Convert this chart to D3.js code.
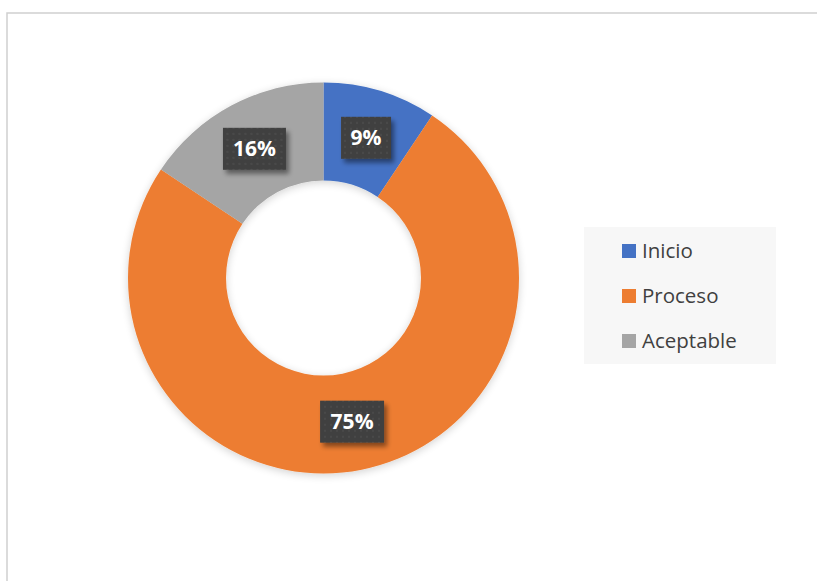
<!DOCTYPE html>
<html>
<head>
<meta charset="utf-8">
<script src="https://cdn.jsdelivr.net/npm/d3@7"></script>
<style>
html,body{margin:0;padding:0;background:#fff;}
svg{display:block;}
</style>
</head>
<body>
<svg id="chart" width="817" height="581"></svg>
<script>
const categories = ["Inicio", "Proceso", "Aceptable"];
const values = [3, 24, 5];
const colors = ["#4472C4", "#ED7D31", "#A5A5A5"];

const svg = d3.select("#chart");
const W = 817, H = 581;
const total = d3.sum(values);
const fmt = v => Math.round(v / total * 100) + "%";

const defs = svg.append("defs");
const sh = defs.append("filter").attr("id","shadow").attr("x","-20%").attr("y","-20%").attr("width","140%").attr("height","140%");
sh.append("feGaussianBlur").attr("in","SourceAlpha").attr("stdDeviation",4);
sh.append("feOffset").attr("dx",0).attr("dy",2).attr("result","b");
sh.append("feComponentTransfer").append("feFuncA").attr("type","linear").attr("slope",0.18);
const m1 = sh.append("feMerge"); m1.append("feMergeNode"); m1.append("feMergeNode").attr("in","SourceGraphic");

const sh2 = defs.append("filter").attr("id","lblshadow").attr("x","-30%").attr("y","-30%").attr("width","160%").attr("height","160%");
sh2.append("feGaussianBlur").attr("in","SourceAlpha").attr("stdDeviation",2.5);
sh2.append("feOffset").attr("dx",3).attr("dy",4).attr("result","b");
sh2.append("feComponentTransfer").append("feFuncA").attr("type","linear").attr("slope",0.45);
const m2 = sh2.append("feMerge"); m2.append("feMergeNode"); m2.append("feMergeNode").attr("in","SourceGraphic");

const pat = defs.append("pattern").attr("id","dots").attr("width",6).attr("height",6).attr("patternUnits","userSpaceOnUse");
pat.append("rect").attr("width",6).attr("height",6).attr("fill","#404040");
pat.append("rect").attr("x",2).attr("y",2).attr("width",2).attr("height",2).attr("fill","#4a4a4a");

// chart border
svg.append("path")
  .attr("d", `M7,${H} L7,13 L${W},13`)
  .attr("fill","none").attr("stroke","#d0d0d0").attr("stroke-width",1.5);

const cx = 323.5, cy = 278, R = 195.5, r = 97.5;
const pie = d3.pie().sort(null).value(d => d);
const arcs = pie(values);
const arc = d3.arc().innerRadius(r).outerRadius(R);
const labelArc = d3.arc().innerRadius((r+R)/2).outerRadius((r+R)/2);

const g = svg.append("g").attr("transform", `translate(${cx},${cy})`);
g.append("g").attr("filter","url(#shadow)")
  .selectAll("path").data(arcs).join("path")
  .attr("d", arc).attr("fill", (d,i) => colors[i]);

const boxW = [50, 64, 63], boxH = 42;
const lg = g.selectAll("g.lbl").data(arcs).join("g").attr("class","lbl")
  .attr("transform", d => { const c = labelArc.centroid(d); return `translate(${c[0]},${c[1]})`; });
lg.append("rect")
  .attr("x",(d,i)=>-boxW[i]/2).attr("y",-boxH/2)
  .attr("width",(d,i)=>boxW[i]).attr("height",boxH)
  .attr("fill","url(#dots)").attr("filter","url(#lblshadow)");
lg.append("text")
  .attr("text-anchor","middle").attr("dy","0.36em")
  .attr("font-family","'Open Sans', 'Liberation Sans', sans-serif")
  .attr("font-weight","bold").attr("font-size",21).attr("fill","#ffffff")
  .text(d=>fmt(d.data));

// legend
const leg = svg.append("g");
leg.append("rect").attr("x",584).attr("y",227).attr("width",192).attr("height",137).attr("fill","#f7f7f7");
const items = leg.selectAll("g.item").data(categories).join("g").attr("class","item")
  .attr("transform",(d,i)=>`translate(622,${251 + i*45})`);
items.append("rect").attr("x",0).attr("y",-7).attr("width",14).attr("height",14).attr("fill",(d,i)=>colors[i]);
items.append("text").attr("x",20).attr("y",0).attr("dy","0.36em")
  .attr("font-family","'Open Sans', 'Liberation Sans', sans-serif")
  .attr("font-size",20.5).attr("fill","#404040")
  .text(d=>d);
</script>
</body>
</html>
